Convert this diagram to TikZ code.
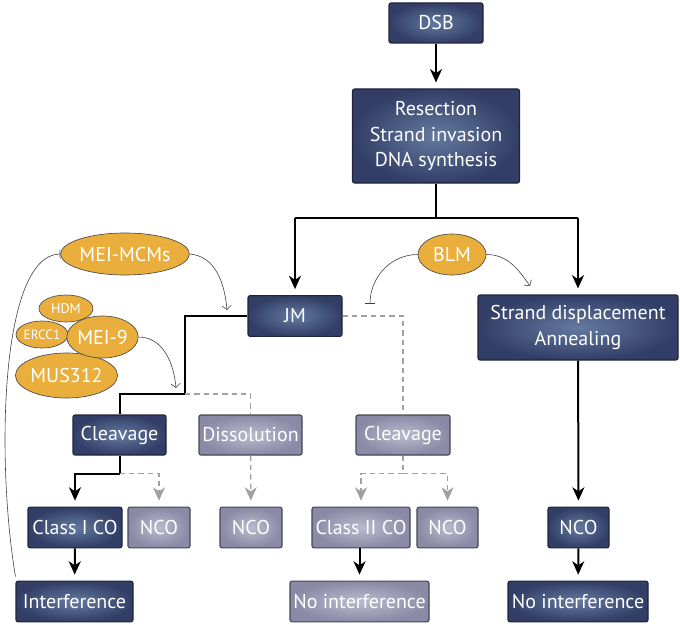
\documentclass[tikz,border=0pt]{standalone}
\usepackage{fontspec}
\setmainfont{PT Sans}
\usetikzlibrary{arrows.meta,shapes.geometric}
\definecolor{navyedge}{RGB}{30,36,58}
\definecolor{navyout}{RGB}{50,62,102}
\definecolor{navyin}{RGB}{100,122,160}
\definecolor{greyedge}{RGB}{70,70,82}
\definecolor{greyout}{RGB}{138,138,166}
\definecolor{greyin}{RGB}{186,186,206}
\definecolor{enzyme}{RGB}{233,174,60}
\definecolor{dashgrey}{RGB}{160,160,160}

\begin{document}
\begin{tikzpicture}[x=0.75pt,y=-0.75pt,
  font=\fontsize{15}{19}\selectfont,
  dark/.style={rectangle,rounded corners=1.5pt,draw=navyedge,line width=0.8pt,
    inner color=navyin,outer color=navyout,text=white,align=center,inner sep=0pt,
    minimum height=30.5pt},
  light/.style={dark,draw=greyedge,inner color=greyin,outer color=greyout},
  enz/.style={ellipse,draw=black!70,line width=0.5pt,fill=enzyme,text=white,inner sep=0pt},
  main/.style={line width=1.5pt,-{Stealth[length=10pt,width=9pt,inset=3pt]},shorten >=4.5pt},
  mainline/.style={line width=1.5pt},
  minor/.style={line width=1pt,dashgrey,dash pattern=on 4pt off 3pt},
  minorarrow/.style={minor,-{Stealth[length=10pt,width=9pt,inset=3pt]},shorten >=4.5pt},
  regarrow/.style={line width=0.45pt,black!75,-{Straight Barb[length=3pt,width=7pt]}},
  regbar/.style={line width=0.45pt,black!75,-{Bar[width=7pt]}}]
\useasboundingbox (0,0) rectangle (680,624);

% Construct early steps
\node[dark,minimum width=70.5pt,minimum height=30pt] (dsb) at (436,23) {DSB};
\node[dark,minimum width=125.25pt,minimum height=70.5pt] (res) at (436,136)
  {Resection\\Strand invasion\\DNA synthesis};
\node[dark,minimum width=70.5pt] (jm) at (295,316) {JM};
\node[dark,minimum width=150pt,minimum height=48.75pt] (sda) at (578,327.5)
  {Strand displacement\\Annealing};

% Construct JM outcomes
\node[dark,minimum width=69.75pt,minimum height=30pt] (clv) at (119.5,435) {Cleavage};
\node[light,minimum width=77.25pt,minimum height=30pt] (dis) at (250.5,435) {Dissolution};
\node[light,minimum width=70.5pt,minimum height=30pt] (clvb) at (403,435) {Cleavage};

% Construct products
\node[dark,minimum width=70.5pt] (coi) at (75,527.5) {Class I CO};
\node[light,minimum width=46.5pt] (ncoa) at (159,527.5) {NCO};
\node[light,minimum width=46.5pt] (ncob) at (251,527.5) {NCO};
\node[light,minimum width=73.5pt] (coii) at (361,527.5) {Class II CO};
\node[light,minimum width=45.75pt] (ncoc) at (447.5,527.5) {NCO};
\node[dark,minimum width=45.75pt] (ncod) at (578.5,527.5) {NCO};
\node[dark,minimum width=87.75pt] (intf) at (74.5,601.5) {Interference};
\node[light,minimum width=104.25pt] (noia) at (359.5,601.5) {No interference};
\node[dark,minimum width=105pt] (noib) at (578,601.5) {No interference};

% Construct enzymes
\node[enz,minimum width=81pt,minimum height=31.5pt] (mcm) at (125,254) {MEI-MCMs};
\node[enz,minimum width=51pt,minimum height=30.75pt] (blm) at (452,254.5) {BLM};
\node[enz,minimum width=62.25pt,minimum height=33.75pt] (mus) at (66.5,375.5) {MUS312};
\node[enz,minimum width=40.5pt,minimum height=20.25pt,font=\fontsize{10.5}{12}\selectfont]
  (hdm) at (66,308.5) {HDM};
\node[enz,minimum width=39pt,minimum height=20.25pt,font=\fontsize{10}{12}\selectfont]
  (ercc) at (42,334.5) {ERCC1};
\node[enz,minimum width=51.75pt,minimum height=31.5pt] (mei) at (102.5,337) {MEI-9};

% Construct main branches
\draw[main] (dsb) -- (res);
\draw[mainline] (res.south) -- ++(0,34) coordinate (split);
\draw[mainline] (split -| jm) -- (split -| sda);
\draw[main] (split -| jm) -- (jm);
\draw[main] (split -| sda) -- (sda);

% Construct JM resolution
\coordinate (jmturn) at (185,394);
\draw[mainline] (jm.west) -| (jmturn) -| (clv.north);
\draw[minor] (jmturn) -| (dis.north);
\draw[minor] (jm.east) -| (clvb.north);

% Construct cleavage branches
\draw[mainline] (clv.south) -- ++(0,18) coordinate (clvsplit);
\draw[main] (clvsplit) -| (coi.north);
\draw[minorarrow] (clvsplit) -| (ncoa.north);
\draw[minorarrow] (dis) -- (ncob);
\draw[minor] (clvb.south) -- ++(0,18) coordinate (clvbsplit);
\draw[minorarrow] (clvbsplit) -| (coii.north);
\draw[minorarrow] (clvbsplit) -| (ncoc.north);

% Construct final steps
\draw[main] (coi) -- (intf);
\draw[main] (coii.south -| noia) -- (noia);
\draw[main] (sda) -- (ncod);
\draw[main] (ncod) -- (noib);

% Construct regulation
\coordinate (mcmtip) at (227,310);
\coordinate (meitip) at (176,388);
\coordinate (blmbar) at (370,304);
\coordinate (blmtip) at (530,286);
\draw[regarrow] (mcm.east) to[out=-5,in=95] (mcmtip);
\draw[regarrow] (mei.east) to[out=0,in=95] (meitip);
\draw[regbar] (blm.west) to[out=180,in=90] (blmbar);
\draw[regarrow] (blm.east) to[out=0,in=125] (blmtip);
\draw[regbar] ([shift={(0,-4)}]intf.north west)
  .. controls (-4,460) and (0,255) .. (mcm.west);
\end{tikzpicture}
\end{document}
